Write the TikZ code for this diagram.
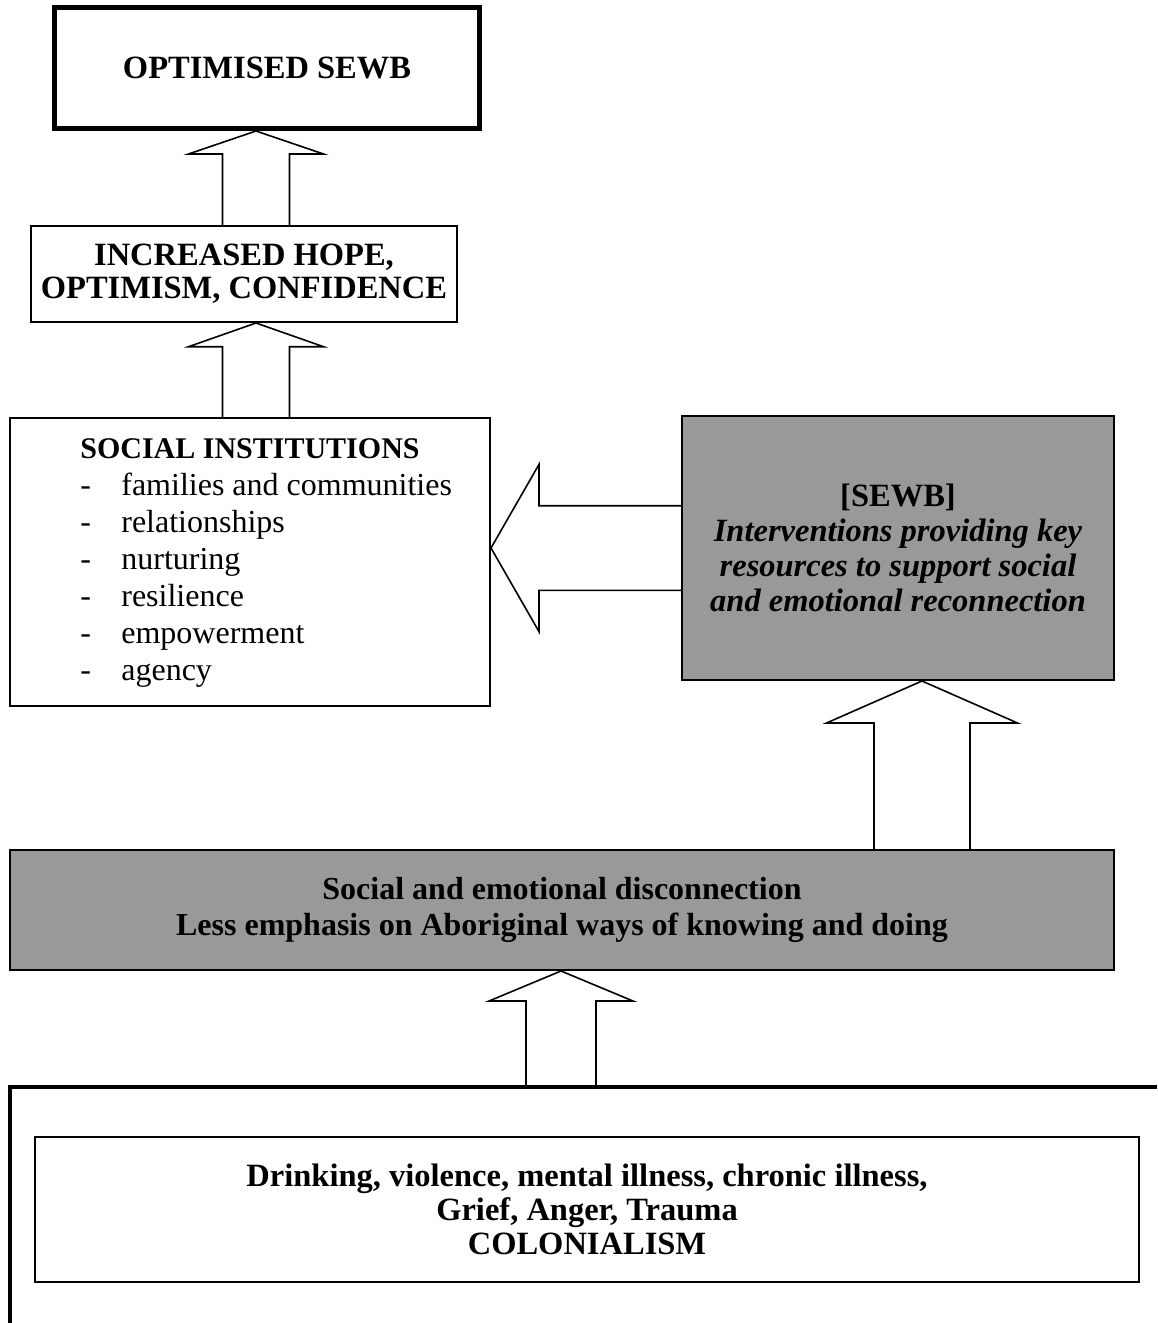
\documentclass[tikz,border=0pt]{standalone}
\usepackage{fontspec}
\setmainfont{Liberation Serif}
\usetikzlibrary{calc}

\definecolor{boxgray}{gray}{0.6}

\tikzset{
  plainbox/.style={draw=black, line width=2pt, align=center, inner sep=0pt,
    font=\bfseries\fontsize{32.5}{35}\selectfont},
  greybox/.style={plainbox, fill=boxgray},
  fatarrow/.style={draw=black, line width=1.6pt, line join=miter},
}

% block arrow pointing up: base, tip, half shaft, half head, head length
\newcommand{\blockup}[5]{%
  \draw[fatarrow] ($(#1)+(-#3,0)$) -- ($(#2)+(-#3,#5)$) -- ($(#2)+(-#4,#5)$) -- (#2)
    -- ($(#2)+(#4,#5)$) -- ($(#2)+(#3,#5)$) -- ($(#1)+(#3,0)$);}

\begin{document}
\begin{tikzpicture}[x=1pt, y=-1pt]
\useasboundingbox (0,0) rectangle (1157,1323);

% boxes
\node[plainbox, line width=5pt, minimum width=425pt, minimum height=121pt] (opt) at (267,68) {OPTIMISED SEWB};
\node[plainbox, minimum width=426pt, minimum height=96pt,
      font=\bfseries\fontsize{32.5}{33}\selectfont] (inc) at (244,274) {INCREASED HOPE,\\ OPTIMISM, CONFIDENCE};
\node[plainbox, minimum width=480pt, minimum height=288pt,
      font=\fontsize{32}{37}\selectfont] (soc) at (250,562) {%
  \begin{tabular}{@{}p{41pt}@{}l@{\hspace{-41pt}}}
  \multicolumn{2}{@{}c@{}}{\fontsize{30}{37}\selectfont\textbf{SOCIAL INSTITUTIONS}}\\
  - & families and communities\\
  - & relationships\\
  - & nurturing\\
  - & resilience\\
  - & empowerment\\
  - & agency
  \end{tabular}};
\node[greybox, minimum width=432pt, minimum height=264pt,
      font=\bfseries\itshape\fontsize{32.5}{35}\selectfont] (sewb) at (898,548)
  {{\upshape [SEWB]}\\ Interventions providing key\\ resources to support social\\ and emotional reconnection};
\node[greybox, minimum width=1104pt, minimum height=120pt,
      font=\bfseries\fontsize{32}{36}\selectfont] (disc) at (562,910)
  {Social and emotional disconnection\\ Less emphasis on Aboriginal ways of knowing and doing};
\node[plainbox, line width=2.5pt, minimum width=1104pt, minimum height=145pt,
      font=\bfseries\fontsize{32.5}{34}\selectfont] (cause) at (587,1209.5)
  {Drinking, violence, mental illness, chronic illness,\\ Grief, Anger, Trauma\\ COLONIALISM};

% open frame round the causes
\coordinate (fl) at (10,1323);
\coordinate (fc) at (10,1087);
\coordinate (fr) at (1157,1087);
\draw[line width=4pt] (fl) -- (fc) -- (fr);

% arrows
\coordinate (a1) at (256,0);
\coordinate (a3) at (922,0);
\coordinate (a4) at (561,0);
\coordinate (b1) at (inc.north -| a1);
\coordinate (t1) at (opt.south -| a1);
\coordinate (b2) at (soc.north -| a1);
\coordinate (t2) at (inc.south -| a1);
\coordinate (b3) at (disc.north -| a3);
\coordinate (t3) at (sewb.south -| a3);
\coordinate (b4) at (fc -| a4);
\coordinate (t4) at (disc.south -| a4);
\coordinate (tl) at (soc.east |- sewb.west);

\blockup{b1}{t1}{33.5}{67.5}{23}
\blockup{b2}{t2}{33.5}{67.5}{23.7}
\blockup{b3}{t3}{48}{95.5}{42}
\blockup{b4}{t4}{35}{72}{30}
\draw[fatarrow] ($(sewb.west)+(0,-42.3)$) -- ($(tl)+(48,-42.3)$) -- ($(tl)+(48,-83.6)$) -- (tl)
  -- ($(tl)+(48,83.6)$) -- ($(tl)+(48,42.3)$) -- ($(sewb.west)+(0,42.3)$);

\end{tikzpicture}
\end{document}
